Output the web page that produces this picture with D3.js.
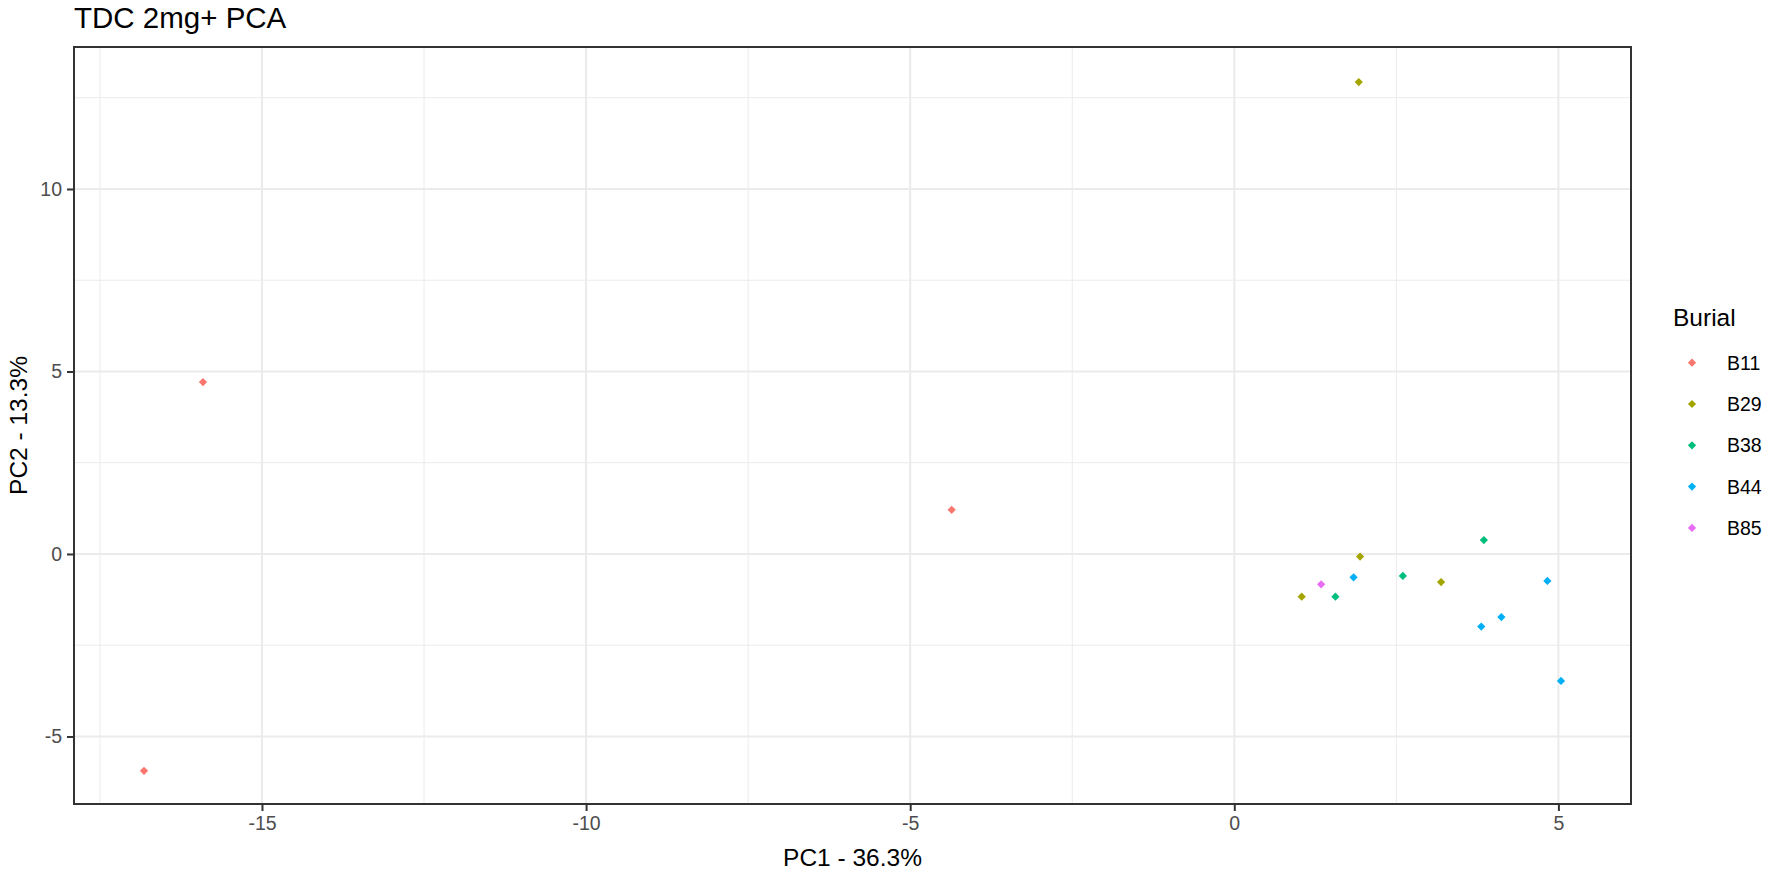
<!DOCTYPE html>
<meta charset="utf-8">
<style>
  body { margin: 0; background: #fff; }
  text { font-family: "Liberation Sans", Arial, sans-serif; }
</style>
<body>
<script src="https://d3js.org/d3.v7.min.js"></script>
<script>
  // data
  const burial = ["B11","B11","B11","B29","B29","B29","B29","B38","B38","B38","B44","B44","B44","B44","B44","B85"];
  const pc1 = [-16.82,-15.91,-4.36, 1.92, 1.94, 3.19, 1.04, 2.60, 1.56, 3.85, 1.84, 4.83, 4.12, 3.81, 5.04, 1.34];
  const pc2 = [-5.94, 4.71, 1.21, 12.93,-0.07,-0.77,-1.17,-0.60,-1.17, 0.38,-0.64,-0.74,-1.73,-1.99,-3.48,-0.83];
  const groups = ["B11","B29","B38","B44","B85"];
  const groupColors = ["#F8766D","#A3A500","#00BF7D","#00B0F6","#E76BF3"];
  const xTicks = [-15,-10,-5,0,5];
  const yTicks = [-5,0,5,10];
  const xMinor = [-17.5,-12.5,-7.5,-2.5,2.5];
  const yMinor = [-2.5,2.5,7.5,12.5];

  const W = 1772, H = 874;
  const pLeft = 74, pRight = 1631, pTop = 47, pBottom = 804;

  const svg = d3.select("body").append("svg")
    .attr("width", W).attr("height", H);

  const x = d3.scaleLinear().domain([-17.9, 6.12]).range([pLeft, pRight]);
  const y = d3.scaleLinear().domain([-6.85, 13.89]).range([pBottom, pTop]);
  const color = d3.scaleOrdinal().domain(groups).range(groupColors);

  // grid
  const grid = svg.append("g");
  grid.selectAll(".xmin").data(xMinor).join("line")
    .attr("x1", d => x(d)).attr("x2", d => x(d))
    .attr("y1", pTop).attr("y2", pBottom)
    .attr("stroke", "#ebebeb").attr("stroke-width", 1);
  grid.selectAll(".ymin").data(yMinor).join("line")
    .attr("y1", d => y(d)).attr("y2", d => y(d))
    .attr("x1", pLeft).attr("x2", pRight)
    .attr("stroke", "#ebebeb").attr("stroke-width", 1);
  grid.selectAll(".xmaj").data(xTicks).join("line")
    .attr("x1", d => x(d)).attr("x2", d => x(d))
    .attr("y1", pTop).attr("y2", pBottom)
    .attr("stroke", "#ebebeb").attr("stroke-width", 2);
  grid.selectAll(".ymaj").data(yTicks).join("line")
    .attr("y1", d => y(d)).attr("y2", d => y(d))
    .attr("x1", pLeft).attr("x2", pRight)
    .attr("stroke", "#ebebeb").attr("stroke-width", 2);

  // points
  const diamond = d3.symbol(d3.symbolSquare, 34);
  svg.append("g").selectAll("path").data(pc1).join("path")
    .attr("d", diamond)
    .attr("transform", (d, i) => `translate(${x(pc1[i])},${y(pc2[i])}) rotate(45)`)
    .attr("fill", (d, i) => color(burial[i]));

  // panel border
  svg.append("rect")
    .attr("x", pLeft).attr("y", pTop)
    .attr("width", pRight - pLeft).attr("height", pBottom - pTop)
    .attr("fill", "none").attr("stroke", "#333").attr("stroke-width", 2);

  // axes (plain hyphen minus like R)
  const fmt = d => String(d);
  const xAxis = svg.append("g").attr("transform", `translate(0,${pBottom})`)
    .call(d3.axisBottom(x).tickValues(xTicks).tickSize(7).tickPadding(5).tickFormat(fmt));
  const yAxis = svg.append("g").attr("transform", `translate(${pLeft},0)`)
    .call(d3.axisLeft(y).tickValues(yTicks).tickSize(7).tickPadding(5).tickFormat(fmt));
  [xAxis, yAxis].forEach(a => {
    a.select(".domain").remove();
    a.selectAll(".tick line").attr("stroke", "#333").attr("stroke-width", 2);
    a.selectAll(".tick text").attr("fill", "#4d4d4d").style("font-size", "19.5px")
      .style("font-family", "'Liberation Sans', Arial, sans-serif");
  });

  // titles
  svg.append("text").attr("x", pLeft).attr("y", 28)
    .style("font-size", "29.5px").attr("fill", "#000").text("TDC 2mg+ PCA");
  svg.append("text").attr("x", (pLeft + pRight) / 2).attr("y", 866)
    .attr("text-anchor", "middle").style("font-size", "24.5px").text("PC1 - 36.3%");
  svg.append("text")
    .attr("transform", `translate(27,${(pTop + pBottom) / 2}) rotate(-90)`)
    .attr("text-anchor", "middle").style("font-size", "24.5px").text("PC2 - 13.3%");

  // legend
  const legend = svg.append("g");
  legend.append("text").attr("x", 1673).attr("y", 326)
    .style("font-size", "24.5px").text("Burial");
  const items = legend.selectAll(".item").data(groups).join("g")
    .attr("transform", (d, i) => `translate(0,${362.7 + i * 41.3})`);
  items.append("path").attr("d", diamond)
    .attr("transform", "translate(1692,0) rotate(45)")
    .attr("fill", d => color(d));
  items.append("text").attr("x", 1727).attr("dy", "0.36em")
    .style("font-size", "19.5px").attr("fill", "#000").text(d => d);
</script>
</body>
